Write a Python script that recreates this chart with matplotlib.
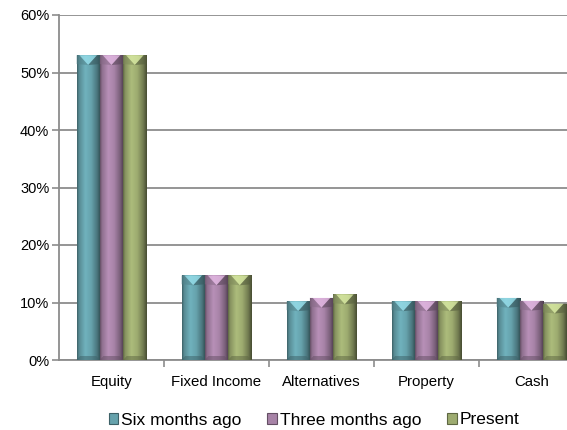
import numpy as np
import matplotlib
matplotlib.use("Agg")
import matplotlib.pyplot as plt
from matplotlib.patches import Polygon, Rectangle
from matplotlib.colors import to_rgb
from matplotlib.ticker import PercentFormatter, FixedLocator

plt.rcParams['font.family'] = ['Liberation Sans', 'DejaVu Sans']

categories = ["Equity", "Fixed Income", "Alternatives", "Property", "Cash"]
series_names = ["Six months ago", "Three months ago", "Present"]
six_months = [0.530, 0.147, 0.102, 0.102, 0.108]
three_months = [0.530, 0.147, 0.108, 0.102, 0.103]
present = [0.530, 0.147, 0.114, 0.102, 0.098]
colors = ["#66A2AC", "#A783A7", "#9DAB70"]
yticks = [0, 0.1, 0.2, 0.3, 0.4, 0.5, 0.6]

W, H = 567, 430
fig = plt.figure(figsize=(W / 100, H / 100), dpi=100)
ax = fig.add_axes([59 / W, 1 - 360 / H, (584 - 59) / W, (360 - 15) / H])

x = np.arange(len(categories))
bw = 0.222
offsets = [-bw, 0, bw]
data = [six_months, three_months, present]

ax.set_xlim(-0.5, len(categories) - 0.5)
ax.set_ylim(0, 0.6)
ax.set_yticks(yticks)
ax.yaxis.set_major_formatter(PercentFormatter(1.0, decimals=0))
ax.grid(axis='y', color='#8c8c8c', linewidth=1.3, zorder=0)
ax.set_axisbelow(True)
for s in ['top', 'right']:
    ax.spines[s].set_visible(False)
for s in ['left', 'bottom']:
    ax.spines[s].set_color('#8c8c8c')
    ax.spines[s].set_linewidth(1.3)
ax.tick_params(axis='y', colors='#8c8c8c', length=5, width=1.2, labelcolor='black', labelsize=10.5, pad=2)
ax.set_xticks(x)
ax.set_xticklabels(categories)
ax.tick_params(axis='x', which='major', length=0, labelsize=10.8, pad=11)
ax.xaxis.set_minor_locator(FixedLocator(np.arange(0.5, len(categories) - 0.5, 1)))
ax.tick_params(axis='x', which='minor', length=5, width=1.2, color='#8c8c8c')

fig.canvas.draw()
# pixel-to-data scale for bevel height
px_per_y = (ax.transData.transform((0, 0.6))[1] - ax.transData.transform((0, 0))[1]) / 0.6
px_per_x = ax.transData.transform((1, 0))[0] - ax.transData.transform((0, 0))[0]
bw_px = bw * px_per_x
bevel_h = (bw_px * 0.42) / px_per_y
bottom_h = 4 / px_per_y

# horizontal shading profile
u = np.linspace(0, 1, 64)
profile = np.interp(u, [0, 0.08, 0.35, 0.6, 0.85, 1.0], [0.6, 0.85, 1.1, 1.0, 0.72, 0.45])

for vals, off, c in zip(data, offsets, colors):
    base = np.array(to_rgb(c))
    bars = ax.bar(x + off, vals, width=bw, color=c, zorder=2, linewidth=0)
    img = np.clip(profile[None, :, None] * base[None, None, :], 0, 1)
    for b in bars:
        x0, y0 = b.get_x(), b.get_y()
        w, h = b.get_width(), b.get_height()
        im = ax.imshow(img, extent=[x0, x0 + w, y0, y0 + h], aspect='auto',
                       zorder=3, interpolation='bilinear')
        im.set_clip_path(b)
        top = y0 + h
        xc = x0 + w / 2
        light = np.clip(base * 1.2 + 0.12, 0, 1)
        ax.add_patch(Polygon([[x0 + w * 0.12, top], [x0 + w * 0.88, top], [xc, top - bevel_h]],
                             closed=True, facecolor=light, edgecolor='none', zorder=4, alpha=0.75))
        ax.add_patch(Polygon([[x0, top], [x0 + w * 0.12, top], [xc, top - bevel_h], [x0, top - bevel_h * 0.9]],
                             closed=True, facecolor=base * 0.8, edgecolor='none', zorder=4, alpha=0.5))
        ax.add_patch(Polygon([[x0 + w * 0.88, top], [x0 + w, top], [x0 + w, top - bevel_h * 0.9], [xc, top - bevel_h]],
                             closed=True, facecolor=base * 0.55, edgecolor='none', zorder=4, alpha=0.6))
        # darker bottom lip
        ax.add_patch(Polygon([[x0, y0], [x0 + w, y0], [x0 + w * 0.85, y0 + bottom_h], [x0 + w * 0.15, y0 + bottom_h]],
                             closed=True, facecolor=base * 0.6, edgecolor='none', zorder=4, alpha=0.5))

handles = [Rectangle((0, 0), 1, 1, facecolor=c, edgecolor=np.array(to_rgb(c)) * 0.6, linewidth=0.8)
           for c in colors]
fig.legend(handles, series_names, loc='center', bbox_to_anchor=(314 / W, 1 - 420 / H), ncol=3,
           frameon=False, fontsize=12.5, handlelength=0.55, handleheight=0.55, handletextpad=0.15,
           columnspacing=1.5, borderpad=0)

fig.savefig("out.png", dpi=100)
